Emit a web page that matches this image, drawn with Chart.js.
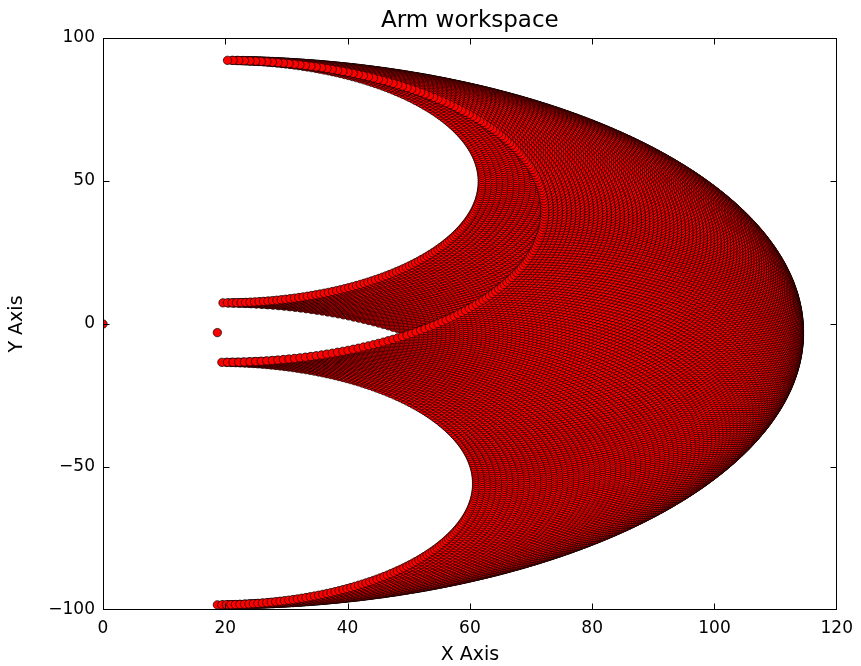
<!DOCTYPE html>
<html>
<head>
<meta charset="utf-8">
<title>Arm workspace</title>
<script src="https://cdn.jsdelivr.net/npm/chart.js@4.4.1/dist/chart.umd.min.js"></script>
<style>
    html, body { margin: 0; padding: 0; background: #fff; }
    #wrap { width: 861px; height: 666px; }
</style>
</head>
<body>
<div id="wrap"><canvas id="armChart" width="861" height="666"></canvas></div>
<script>
// Arm workspace - two-link arm, every pose of both joints plotted as a dot

// Link lengths (full reach ~95, inner gap ~10)
const linkLengths = [52.8, 42.4];

// Shoulder (lone dot left of the workspace) and the origin dot on the y axis
const basePoint = [18.7, -3.0];
const originPoint = [0, 0];

// Joint angle samples in degrees (shoulder, and absolute angle of link two)
const shoulderAngles = [
    -90, -89, -88, -87, -86, -85, -84, -83, -82, -81, -80, -79, -78, -77, -76, -75, -74, -73, -72, -71,
    -70, -69, -68, -67, -66, -65, -64, -63, -62, -61, -60, -59, -58, -57, -56, -55, -54, -53, -52, -51,
    -50, -49, -48, -47, -46, -45, -44, -43, -42, -41, -40, -39, -38, -37, -36, -35, -34, -33, -32, -31,
    -30, -29, -28, -27, -26, -25, -24, -23, -22, -21, -20, -19, -18, -17, -16, -15, -14, -13, -12, -11,
    -10, -9, -8, -7, -6, -5, -4, -3, -2, -1, 0, 1, 2, 3, 4, 5, 6, 7, 8, 9,
    10, 11, 12, 13, 14, 15, 16, 17, 18, 19, 20, 21, 22, 23, 24, 25, 26, 27, 28, 29,
    30, 31, 32, 33, 34, 35, 36, 37, 38, 39, 40, 41, 42, 43, 44, 45, 46, 47, 48, 49,
    50, 51, 52, 53, 54, 55, 56, 57, 58, 59, 60, 61, 62, 63, 64, 65, 66, 67, 68, 69,
    70, 71, 72, 73, 74, 75, 76, 77, 78, 79, 80, 81, 82, 83, 84, 85, 86, 87, 88, 89
];
const linkTwoAngles = shoulderAngles;

// Axis ticks
const xTicks = [0, 20, 40, 60, 80, 100, 120];
const yTicks = [-100, -50, 0, 50, 100];

const FONT = 'DejaVu Sans';

// Forward kinematics for every pair of joint angles
// (link two is the outer loop, which decides which dots end up on top)
function workspacePoints() {
    const pts = [];
    const l1 = linkLengths[0];
    const l2 = linkLengths[1];
    linkTwoAngles.forEach(b => {
        const rb = b * Math.PI / 180;
        shoulderAngles.forEach(a => {
            const ra = a * Math.PI / 180;
            pts.push({
                x: basePoint[0] + l1 * Math.cos(ra) + l2 * Math.cos(rb),
                y: basePoint[1] + l1 * Math.sin(ra) + l2 * Math.sin(rb)
            });
        });
    });
    return pts;
}

function tickLabel(v) {
    return v < 0 ? '\u2212' + Math.abs(v) : String(v);
}

// Black frame with inward ticks on all four sides, drawn over the dots
const framePlugin = {
    id: 'frame',
    afterDatasetsDraw(chart) {
        const { ctx, chartArea: a, scales } = chart;
        const len = 6;
        const left = Math.round(a.left) + 0.5;
        const right = Math.round(a.right) - 0.5;
        const top = Math.round(a.top) + 0.5;
        const bottom = Math.round(a.bottom) - 0.5;
        ctx.save();
        ctx.strokeStyle = '#000';
        ctx.lineWidth = 1;
        ctx.strokeRect(left, top, right - left, bottom - top);
        ctx.beginPath();
        xTicks.forEach(v => {
            let px = Math.round(scales.x.getPixelForValue(v)) + 0.5;
            px = Math.min(Math.max(px, left), right);
            ctx.moveTo(px, bottom);
            ctx.lineTo(px, bottom - len);
            ctx.moveTo(px, top);
            ctx.lineTo(px, top + len);
        });
        yTicks.forEach(v => {
            let py = Math.round(scales.y.getPixelForValue(v)) + 0.5;
            py = Math.min(Math.max(py, top), bottom);
            ctx.moveTo(left, py);
            ctx.lineTo(left + len, py);
            ctx.moveTo(right, py);
            ctx.lineTo(right - len, py);
        });
        ctx.stroke();
        ctx.restore();
    }
};

const pointStyle = {
    backgroundColor: '#ff0000',
    borderColor: '#000000',
    borderWidth: 0.7,
    pointRadius: 4.2,
    pointHoverRadius: 4.2,
    showLine: false,
    clip: 0
};

new Chart(document.getElementById('armChart'), {
    type: 'scatter',
    data: {
        datasets: [
            Object.assign({ label: 'origin', data: [{ x: originPoint[0], y: originPoint[1] }] }, pointStyle),
            Object.assign({ label: 'base', data: [{ x: basePoint[0], y: basePoint[1] }] }, pointStyle),
            Object.assign({ label: 'workspace', data: workspacePoints() }, pointStyle)
        ]
    },
    options: {
        responsive: false,
        devicePixelRatio: 1,
        animation: false,
        events: [],
        layout: { padding: { left: 0, right: 20, top: 0, bottom: 0 } },
        plugins: {
            legend: { display: false },
            tooltip: { enabled: false },
            title: {
                display: true,
                fullSize: false,
                text: 'Arm workspace',
                color: '#000',
                font: { family: FONT, size: 23, weight: 'normal' },
                padding: { top: 6.8, bottom: 3.6 }
            }
        },
        scales: {
            x: {
                type: 'linear',
                min: 0,
                max: 120,
                grid: { display: false, drawTicks: false },
                border: { display: false },
                ticks: {
                    color: '#000',
                    font: { family: FONT, size: 17 },
                    padding: 8,
                    maxRotation: 0,
                    autoSkip: false,
                    callback: tickLabel
                },
                afterBuildTicks: s => { s.ticks = xTicks.map(v => ({ value: v })); },
                afterFit: s => { s.height = 56; },
                title: {
                    display: true,
                    text: 'X Axis',
                    color: '#000',
                    font: { family: FONT, size: 19 },
                    padding: { top: 0, bottom: 0 }
                }
            },
            y: {
                type: 'linear',
                min: -100,
                max: 100,
                grid: { display: false, drawTicks: false },
                border: { display: false },
                ticks: {
                    color: '#000',
                    font: { family: FONT, size: 17 },
                    padding: 8,
                    autoSkip: false,
                    callback: tickLabel
                },
                afterBuildTicks: s => { s.ticks = yTicks.map(v => ({ value: v })); },
                afterFit: s => { s.width = 103; },
                title: {
                    display: true,
                    text: 'Y Axis',
                    color: '#000',
                    font: { family: FONT, size: 19 },
                    padding: { top: 6, bottom: 0 }
                }
            }
        }
    },
    plugins: [framePlugin]
});
</script>
</body>
</html>
